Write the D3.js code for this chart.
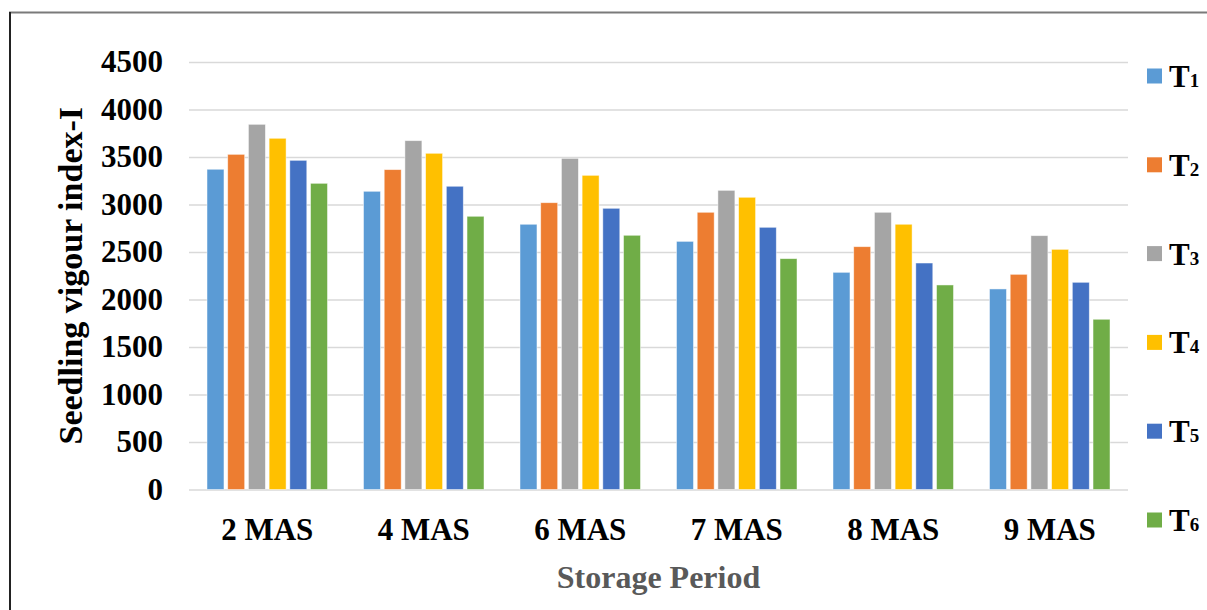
<!DOCTYPE html>
<html>
<head>
    <meta charset="utf-8">
    <title>Seedling vigour index-I</title>
    <script src="https://cdnjs.cloudflare.com/ajax/libs/d3/7.8.5/d3.min.js"></script>
    <style>
        body { margin: 0; background: #fff; }
        svg text { font-family: "Liberation Serif", "Times New Roman", serif; font-weight: bold; }
    </style>
</head>
<body>
<script type="text/javascript">
    // data
    var periods = ["2 MAS", "4 MAS", "6 MAS", "7 MAS", "8 MAS", "9 MAS"];
    var treatments = ["T1", "T2", "T3", "T4", "T5", "T6"];
    var T1 = [3371, 3139, 2792, 2612, 2286, 2111];
    var T2 = [3528, 3367, 3019, 2918, 2556, 2265];
    var T3 = [3844, 3672, 3486, 3149, 2918, 2672];
    var T4 = [3697, 3539, 3307, 3076, 2792, 2528];
    var T5 = [3465, 3192, 2960, 2760, 2384, 2181];
    var T6 = [3223, 2876, 2676, 2430, 2153, 1792];
    var yTicks = [0, 500, 1000, 1500, 2000, 2500, 3000, 3500, 4000, 4500];

    var series = [T1, T2, T3, T4, T5, T6];
    var colors = ["#5B9BD5", "#ED7D31", "#A5A5A5", "#FFC000", "#4472C4", "#70AD47"];

    var width = 1207, height = 610,
        plotLeft = 189, plotRight = 1128, plotTop = 62, plotBottom = 489.5;

    var svg = d3.select("body").append("svg")
        .attr("width", width)
        .attr("height", height);

    // outer frame (only top and left edges visible)
    svg.append("line").attr("x1", 9).attr("x2", width).attr("y1", 12.5).attr("y2", 12.5)
        .attr("stroke", "#7a7a7a").attr("stroke-width", 2);
    svg.append("line").attr("x1", 10).attr("x2", 10).attr("y1", 12).attr("y2", height)
        .attr("stroke", "#222").attr("stroke-width", 2);

    var y = d3.scaleLinear().domain([0, 4500]).range([plotBottom, plotTop]);

    var x0 = d3.scaleBand().domain(periods).range([plotLeft, plotRight])
        .paddingInner(0.23).paddingOuter(0.115);
    var x1 = d3.scaleBand().domain(treatments).range([0, x0.bandwidth()])
        .paddingInner(0.18);

    // gridlines
    svg.append("g")
        .attr("transform", "translate(" + plotLeft + ",0)")
        .call(d3.axisLeft(y).tickValues(yTicks).tickSize(-(plotRight - plotLeft)).tickFormat(""))
        .call(function(g){
            g.select(".domain").remove();
            g.selectAll("line").attr("stroke", "#d9d9d9").attr("stroke-width", 1.5);
        });

    // y tick labels
    svg.append("g")
        .attr("transform", "translate(" + plotLeft + ",0)")
        .call(d3.axisLeft(y).tickValues(yTicks).tickFormat(d3.format("d")).tickSize(0).tickPadding(26))
        .call(function(g){
            g.select(".domain").remove();
            g.selectAll("text").attr("font-size", 31).attr("fill", "#000")
                .attr("font-family", "Liberation Serif, Times New Roman, serif")
                .attr("font-weight", "bold");
        });

    // bars
    var groups = svg.append("g").selectAll("g")
        .data(periods)
        .join("g")
        .attr("transform", function(d){ return "translate(" + x0(d) + ",0)"; });

    groups.selectAll("rect")
        .data(function(d, i){
            return treatments.map(function(t, j){ return { t: t, v: series[j][i], c: colors[j] }; });
        })
        .join("rect")
        .attr("x", function(d){ return x1(d.t); })
        .attr("y", function(d){ return y(d.v); })
        .attr("width", x1.bandwidth())
        .attr("height", function(d){ return y(0) - y(d.v); })
        .attr("fill", function(d){ return d.c; })
        .attr("stroke", "#fff")
        .attr("stroke-opacity", 0.6)
        .attr("stroke-width", 0.8);

    // x category labels
    svg.append("g")
        .attr("transform", "translate(0," + plotBottom + ")")
        .call(d3.axisBottom(x0).tickSize(0).tickPadding(28))
        .call(function(g){
            g.select(".domain").remove();
            g.selectAll("text").attr("font-size", 31).attr("fill", "#000")
                .attr("font-family", "Liberation Serif, Times New Roman, serif")
                .attr("font-weight", "bold");
        });

    // axis titles
    svg.append("text")
        .attr("transform", "translate(70," + ((plotTop + plotBottom) / 2) + ") rotate(-90)")
        .attr("text-anchor", "middle")
        .attr("dy", "0.35em")
        .attr("font-size", 34)
        .attr("fill", "#000")
        .text("Seedling vigour index-I");

    svg.append("text")
        .attr("x", (plotLeft + plotRight) / 2)
        .attr("y", 588)
        .attr("text-anchor", "middle")
        .attr("font-size", 32)
        .attr("fill", "#595959")
        .text("Storage Period");

    // legend
    var legend = svg.append("g").selectAll("g")
        .data(treatments)
        .join("g")
        .attr("transform", function(d, i){ return "translate(1147," + (76 + i * 88.8) + ")"; });

    legend.append("rect")
        .attr("x", 0).attr("y", -7.5)
        .attr("width", 15).attr("height", 15)
        .attr("fill", function(d, i){ return colors[i]; });

    var lt = legend.append("text")
        .attr("x", 22)
        .attr("y", 11)
        .attr("fill", "#000");
    lt.append("tspan").attr("font-size", 31).text("T");
    lt.append("tspan").attr("font-size", 19).text(function(d){ return d.slice(1); });
</script>
</body>
</html>
